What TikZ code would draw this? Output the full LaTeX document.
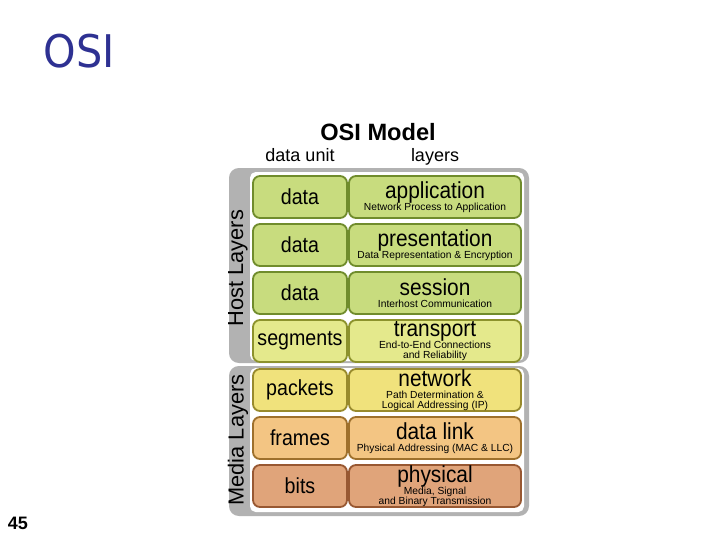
\documentclass[tikz,border=0pt]{standalone}
\usepackage{fontspec}
\setmainfont{Liberation Sans}
\newfontfamily\slidefont{DejaVu Sans}
\usepackage{xcolor}
\usetikzlibrary{positioning}

\definecolor{slideblue}{RGB}{46,49,146}
\definecolor{panelgray}{RGB}{178,178,178}
\definecolor{hostfill}{RGB}{200,220,126}
\definecolor{hostline}{RGB}{112,140,44}
\definecolor{transfill}{RGB}{228,233,140}
\definecolor{transline}{RGB}{140,146,44}
\definecolor{netfill}{RGB}{240,226,124}
\definecolor{netline}{RGB}{152,138,44}
\definecolor{linkfill}{RGB}{243,197,131}
\definecolor{linkline}{RGB}{158,112,44}
\definecolor{physfill}{RGB}{224,164,122}
\definecolor{physline}{RGB}{152,88,50}

\newcommand{\lname}[1]{{\fontsize{16.5}{13.5}\selectfont\scalebox{0.9}[1]{#1}\rule[-3.5pt]{0pt}{3.5pt}}\\[-1pt]}
\newcommand{\uname}[1]{\scalebox{0.9}[1]{#1}}

\begin{document}
\begin{tikzpicture}[x=0.025cm, y=-0.025cm,
    unitbox/.style={rectangle, draw, rounded corners=5pt, line width=1.3pt, minimum width=2.35cm, minimum height=1.05cm, inner sep=0pt, font=\fontsize{15.5}{16}\selectfont},
    layerbox/.style={rectangle, draw, rounded corners=5pt, line width=1.3pt, minimum width=4.3cm, minimum height=1.05cm, inner sep=0pt, align=center, font=\fontsize{7.3}{7}\selectfont},
    hostrow/.style={fill=hostfill, draw=hostline},
    transrow/.style={fill=transfill, draw=transline},
    netrow/.style={fill=netfill, draw=netline},
    linkrow/.style={fill=linkfill, draw=linkline},
    physrow/.style={fill=physfill, draw=physline},
    sidelabel/.style={rotate=90, inner sep=0pt, font=\fontsize{15.5}{16}\selectfont},
    header/.style={anchor=base, inner sep=0pt, font=\fontsize{12.8}{13}\selectfont}
]
\useasboundingbox (0,0) rectangle (720,540);

% slide heading and page number
\node[inner sep=0pt, text=slideblue, font=\slidefont\fontsize{32}{32}\selectfont] (heading) at (79,51) {\scalebox{0.92}[1]{OSI}};
\node[inner sep=0pt, font=\bfseries\fontsize{12.8}{13}\selectfont] (pagenum) at (18,523) {45};

% panels
\fill[panelgray, rounded corners=7pt] (229,168) rectangle (529,363);
\fill[white, rounded corners=4pt] (250,172) rectangle (524,361);
\fill[panelgray, rounded corners=7pt] (229,366) rectangle (529,516);
\fill[white, rounded corners=4pt] (250,368) rectangle (524,512);

% titles
\node[header, font=\bfseries\fontsize{16.8}{17}\selectfont] (model) at (378,140) {OSI Model};
\node[header] (unithead) at (300,161) {data unit};
\node[header] (layerhead) at (435,161) {layers};
\node[sidelabel] (host) at (238,268) {Host Layers};
\node[sidelabel] (media) at (238,440) {Media Layers};

% data units
\node[unitbox, hostrow] (u7) at (300,197) {\uname{data}};
\node[unitbox, hostrow] (u6) at (300,245) {\uname{data}};
\node[unitbox, hostrow] (u5) at (300,293) {\uname{data}};
\node[unitbox, transrow] (u4) at (300,341) {\uname{segments}};
\node[unitbox, netrow] (u3) at (300,390) {\uname{packets}};
\node[unitbox, linkrow] (u2) at (300,438) {\uname{frames}};
\node[unitbox, physrow] (u1) at (300,486) {\uname{bits}};

% layers
\node[layerbox, hostrow] (l7) at (435,197) {\lname{application}Network Process to Application};
\node[layerbox, hostrow] (l6) at (435,245) {\lname{presentation}Data Representation \& Encryption};
\node[layerbox, hostrow] (l5) at (435,293) {\lname{session}Interhost Communication};
\node[layerbox, transrow] (l4) at (435,341) {\lname{transport}End-to-End Connections\\and Reliability};
\node[layerbox, netrow] (l3) at (435,390) {\lname{network}Path Determination \&\\Logical Addressing (IP)};
\node[layerbox, linkrow] (l2) at (435,438) {\lname{data link}Physical Addressing (MAC \& LLC)};
\node[layerbox, physrow] (l1) at (435,486) {\lname{physical}Media, Signal\\and Binary Transmission};
\end{tikzpicture}
\end{document}
